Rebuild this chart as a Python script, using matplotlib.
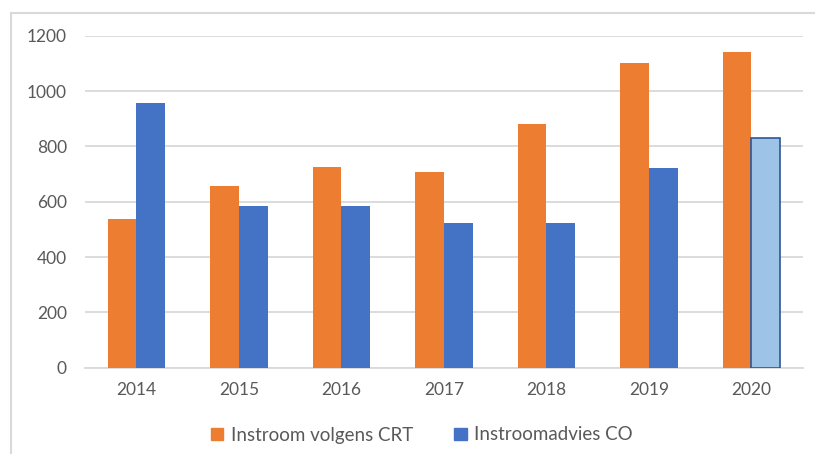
import matplotlib.pyplot as plt
import numpy as np
from matplotlib.lines import Line2D
from matplotlib.patches import Patch

# Data
years = ['2014', '2015', '2016', '2017', '2018', '2019', '2020']
crt = [537, 655, 724, 706, 881, 1101, 1141]
co = [956, 583, 583, 522, 522, 721, 831]

orange = '#ED7D31'
blue = '#4472C4'
light_blue = '#9DC3E6'
text_col = '#595959'

plt.rcParams['font.family'] = ['Lato', 'DejaVu Sans']

W, H = 815, 454
fig = plt.figure(figsize=(W / 100, H / 100), dpi=100)
ax = fig.add_axes([85 / W, 1 - 367.7 / H, (802.7 - 85) / W, (367.7 - 35.7) / H])

x = np.arange(len(years))
bw = 0.28
ax.bar(x - bw / 2, crt, bw, color=orange, zorder=3)
co_colors = [blue] * (len(years) - 1) + [light_blue]
co_edges = [blue] * (len(years) - 1) + ['#2F5597']
co_lw = [0] * (len(years) - 1) + [1.2]
ax.bar(x + bw / 2, co, bw, color=co_colors, edgecolor=co_edges, linewidth=co_lw, zorder=3)

ax.set_xlim(-0.5, len(years) - 0.5)
ax.set_ylim(0, 1200)
ax.set_yticks(range(0, 1201, 200))
ax.set_xticks(x)
ax.set_xticklabels(years)
ax.grid(axis='y', color='#D9D9D9', linewidth=1.3, zorder=0)
for s in ['top', 'right', 'left']:
    ax.spines[s].set_visible(False)
ax.spines['bottom'].set_color('#D9D9D9')
ax.spines['bottom'].set_linewidth(1.3)
ax.tick_params(axis='both', length=0, colors=text_col, labelsize=12.5)
ax.tick_params(axis='y', pad=13)
ax.tick_params(axis='x', pad=10)

handles = [Patch(color=orange, label='Instroom volgens CRT'),
           Patch(color=blue, label='Instroomadvies CO')]
fig.legend(handles=handles, loc='center', bbox_to_anchor=(422 / W, 1 - 435 / H),
           ncol=2, frameon=False, fontsize=13.5, labelcolor=text_col,
           handlelength=0.65, handleheight=0.65, handletextpad=0.4, columnspacing=2.2)

# outer chart border (top and left visible)
fig.add_artist(Line2D([11 / W, 1], [1 - 13 / H, 1 - 13 / H], color='#D9D9D9', lw=1.5))
fig.add_artist(Line2D([11 / W, 11 / W], [0, 1 - 13 / H], color='#D9D9D9', lw=1.5))

fig.savefig('out.png', dpi=100)
